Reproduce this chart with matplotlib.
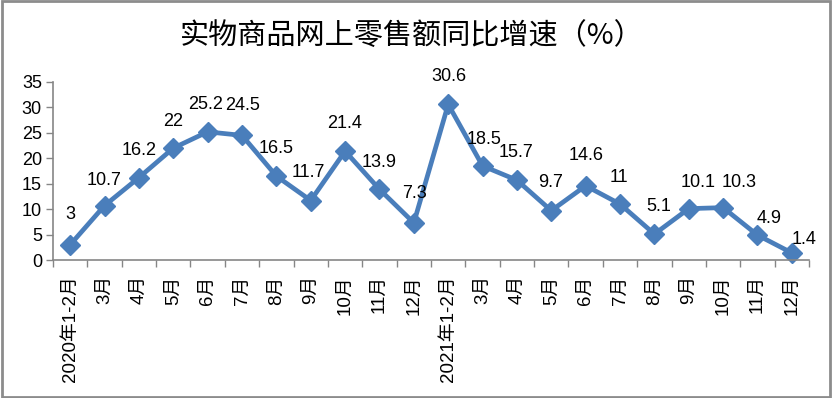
import matplotlib.pyplot as plt
from matplotlib.patches import Rectangle

plt.rcParams['font.family'] = ['Liberation Sans', 'Noto Sans CJK SC']

months = ['2020年1-2月', '3月', '4月', '5月', '6月', '7月', '8月', '9月', '10月', '11月', '12月',
          '2021年1-2月', '3月', '4月', '5月', '6月', '7月', '8月', '9月', '10月', '11月', '12月']
growth = [3, 10.7, 16.2, 22, 25.2, 24.5, 16.5, 11.7, 21.4, 13.9, 7.3,
          30.6, 18.5, 15.7, 9.7, 14.6, 11, 5.1, 10.1, 10.3, 4.9, 1.4]

# label nudges in pixels (Excel labels were dragged a bit by hand)
label_dx = [0, 0, 0, 0, -2, 1, 0, -2, -1, 0, 1, 1, 1, -1, -1, 0, -1, 4, 9, 16, 12, 12]
label_dy = [30, 25, 27, 27, 27, 30, 28, 28, 28, 27, 29, 28, 26, 28, 28, 30, 27, 28, 26, 25, 17, 13]

blue = '#4A7EBB'
axis_gray = '#868686'

fig = plt.figure(figsize=(8.32, 3.98), dpi=100)
ax = fig.add_axes([0.0637, 0.3467, 0.9087, 0.4473])

x = list(range(len(growth)))
ax.plot(x, growth, color=blue, lw=3.4, marker='D', markersize=10, clip_on=False)

for i, v in enumerate(growth):
    ax.annotate(f'{v:g}', (i, v), xytext=(label_dx[i], label_dy[i]), textcoords='offset pixels',
                ha='center', va='center', fontsize=13, color='black')

ax.set_xlim(-0.5, len(growth) - 0.5)
ax.set_ylim(0, 35)
ax.set_yticks(range(0, 36, 5))
ax.set_xticks(x)
ax.set_xticklabels(months, rotation=90, fontsize=13.5)
ax.set_xticks([i - 0.5 for i in range(len(growth) + 1)], minor=True)
ax.tick_params(axis='x', which='major', length=0, pad=11)
ax.tick_params(axis='x', which='minor', length=5, color=axis_gray, width=1)
ax.tick_params(axis='y', length=5, color=axis_gray, width=1, labelsize=13, pad=3)

for side in ['top', 'right']:
    ax.spines[side].set_visible(False)
for side in ['left', 'bottom']:
    ax.spines[side].set_color(axis_gray)
    ax.spines[side].set_linewidth(1.2)

fig.text(0.495, 0.907, '实物商品网上零售额同比增速（%）', ha='center', va='center',
         fontsize=21, family=['Noto Sans CJK SC'])

fig.patches.append(Rectangle((0.002, 0.003), 0.995, 0.994, transform=fig.transFigure,
                             fill=False, edgecolor='#8C8C8C', lw=2))

fig.savefig('out.png', dpi=100)
